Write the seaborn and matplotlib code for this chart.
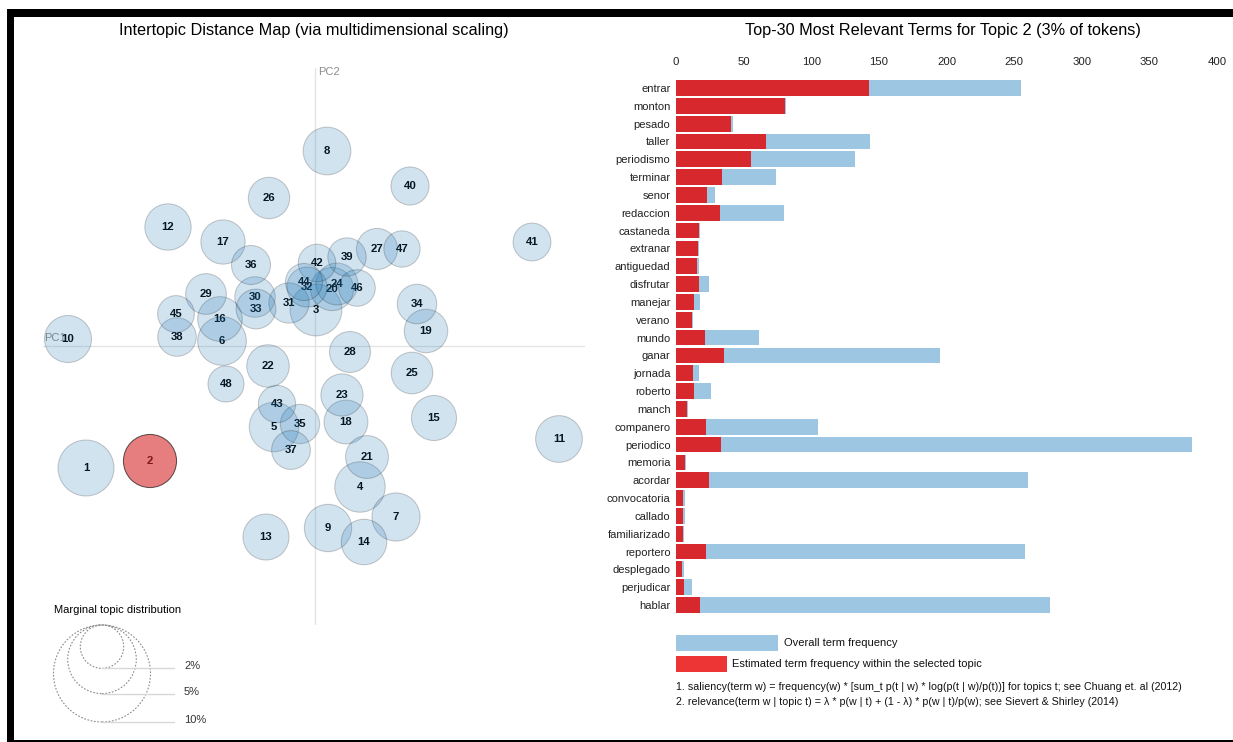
import matplotlib
matplotlib.use("Agg")
import matplotlib.pyplot as plt
from matplotlib.patches import Circle, Rectangle
import numpy as np
import pandas as pd
import seaborn as sns

# ---------------------------------------------------------------- data
# Intertopic distance map: topic centres on the first two principal
# coordinates and each topic's share of all tokens (percent).
topic_ids = list(range(1, 49))
topic_pc1 = [-0.229, -0.165, 0.001, 0.045, -0.041, -0.093, 0.081, 0.012,
             0.013, -0.247, 0.244, -0.147, -0.049, 0.049, 0.119, -0.095,
             -0.092, 0.031, 0.111, 0.017, 0.052, -0.047, 0.027, 0.022,
             0.097, -0.046, 0.062, 0.035, -0.109, -0.060, -0.026, -0.008,
             -0.059, 0.102, -0.015, -0.064, -0.024, -0.138, 0.032, 0.095,
             0.217, 0.002, -0.038, -0.011, -0.139, 0.042, 0.087, -0.089]
topic_pc2 = [-0.122, -0.115, 0.036, -0.141, -0.081, 0.005, -0.171, 0.195,
             -0.182, 0.007, -0.093, 0.119, -0.191, -0.196, -0.072, 0.027,
             0.104, -0.076, 0.015, 0.057, -0.111, -0.020, -0.049, 0.062,
             -0.027, 0.148, 0.097, -0.006, 0.052, 0.049, 0.043, 0.059,
             0.037, 0.042, -0.078, 0.081, -0.104, 0.009, 0.089, 0.160,
             0.104, 0.083, -0.058, 0.064, 0.032, 0.058, 0.097, -0.038]
topic_share = [3.33, 3.00, 2.85, 2.70, 2.60, 2.52, 2.46, 2.42, 2.38, 2.35,
               2.32, 2.28, 2.25, 2.20, 2.16, 2.12, 2.08, 2.04, 2.01, 1.98,
               1.95, 1.92, 1.89, 1.86, 1.84, 1.82, 1.80, 1.78, 1.76, 1.74,
               1.72, 1.70, 1.68, 1.66, 1.64, 1.62, 1.60, 1.58, 1.56, 1.54,
               1.52, 1.50, 1.48, 1.46, 1.44, 1.42, 1.40, 1.38]
selected_topic = 2
legend_shares = [2, 5, 10]

# Top-30 terms for the selected topic
terms = ["entrar", "monton", "pesado", "taller", "periodismo", "terminar",
         "senor", "redaccion", "castaneda", "extranar", "antiguedad",
         "disfrutar", "manejar", "verano", "mundo", "ganar", "jornada",
         "roberto", "manch", "companero", "periodico", "memoria", "acordar",
         "convocatoria", "callado", "familiarizado", "reportero",
         "desplegado", "perjudicar", "hablar"]
overall_freq = [255, 81.5, 41.8, 143.3, 132.5, 73.7, 28.7, 80, 17.9, 17,
                16.7, 24.2, 17.9, 12.2, 61.2, 195.2, 17.3, 26, 8.7, 104.8,
                381.2, 7.2, 260.6, 6.6, 6.6, 5.7, 257.9, 5.7, 11.9, 276.7]
topic_freq = [142.4, 80.3, 40.6, 66.3, 55.2, 33.7, 23, 32.5, 17.3, 16.4,
              15.8, 17, 13.4, 11.6, 21.8, 35.2, 12.2, 13.4, 8.4, 22, 33.1,
              6.9, 24.5, 5.4, 5.4, 5.4, 22.1, 4.5, 6, 17.9]
freq_ticks = [0, 50, 100, 150, 200, 250, 300, 350, 400]

# ---------------------------------------------------------------- style
sns.set_theme(style="white")
plt.rcParams["font.family"] = ["Liberation Sans", "DejaVu Sans"]

W, H, DPI = 1233, 742, 100
BLUE = "#1f77b4"
RED = "#d62728"
BAR_BLUE = "#9dc6e3"
BAR_RED = "#d7282d"
KEY_RED = "#ee3535"


def fig_box(x0, y0, x1, y1):
    """Pixel box (top-left origin) -> figure fraction rectangle."""
    return [x0 / W, 1 - y1 / H, (x1 - x0) / W, (y1 - y0) / H]


def fig_xy(x, y):
    return x / W, 1 - y / H


fig = plt.figure(figsize=(W / DPI, H / DPI), dpi=DPI)
fig.patch.set_facecolor("white")

# ---------------------------------------------------------------- frame
for box in [(7, 9, 14, 742), (7, 9, W, 17), (7, 740, W, 742)]:
    x0, y0, x1, y1 = box
    fig.add_artist(Rectangle(fig_xy(x0, y1), (x1 - x0) / W, (y1 - y0) / H,
                             transform=fig.transFigure, facecolor="black",
                             edgecolor="none", zorder=10))

# ---------------------------------------------------------------- topic map
ax_map = fig.add_axes(fig_box(14, 17, 614, 740))
ax_map.set_xlim(-0.301, 0.299)
ax_map.set_ylim(-0.394, 0.329)
ax_map.set_axis_off()

AXIS_GREY = "#e4e4e4"
ax_map.plot([-0.272, 0.269], [0, 0], color=AXIS_GREY, lw=1, zorder=0)
ax_map.plot([0, 0], [-0.278, 0.278], color=AXIS_GREY, lw=1, zorder=0)
ax_map.text(-0.271, 0.008, "PC1", color="#8c8c8c", fontsize=8,
            ha="left", va="center", zorder=0)
ax_map.text(0.003, 0.274, "PC2", color="#8c8c8c", fontsize=8,
            ha="left", va="center", zorder=0)

R10 = 0.0485  # radius of a topic holding 10% of tokens
for t, x, y, s in zip(topic_ids, topic_pc1, topic_pc2, topic_share):
    r = R10 * np.sqrt(s / 10)
    chosen = t == selected_topic
    ax_map.add_patch(Circle((x, y), r, facecolor=RED if chosen else BLUE,
                            edgecolor="black", lw=0.75,
                            alpha=0.6 if chosen else 0.2, zorder=2))
    ax_map.text(x, y, str(t), fontsize=8.2, fontweight="bold", color="black",
                ha="center", va="center", zorder=1)

# marginal distribution key
key_cx, key_top = -0.213, -0.279
key_line_end, key_label_x = -0.141, -0.131
ax_map.text(-0.261, -0.264, "Marginal topic distribution", fontsize=8,
            color="black", ha="left", va="center")
for s in legend_shares:
    r = R10 * np.sqrt(s / 10)
    ax_map.add_patch(Circle((key_cx, key_top - r), r, fill=False,
                            edgecolor="#8a8a8a", lw=0.8,
                            linestyle=(0, (1.5, 1.5))))
    yb = key_top - 2 * r
    ax_map.plot([key_cx, key_line_end], [yb, yb], color="#d8d8d8", lw=1)
    ax_map.text(key_label_x, yb + 0.002, f"{s}%", fontsize=8, color="#333333",
                ha="left", va="center")

fig.text(*fig_xy(314, 31),
         "Intertopic Distance Map (via multidimensional scaling)",
         fontsize=11.7, ha="center", va="center", color="black")

# ---------------------------------------------------------------- bar chart
df = pd.DataFrame({"term": terms, "overall": overall_freq,
                   "topic": topic_freq})
ax_bar = fig.add_axes(fig_box(676, 79.1, 1217, 613.9))
sns.barplot(data=df, x="overall", y="term", orient="h", color=BAR_BLUE,
            saturation=1, width=0.88, errorbar=None, linewidth=0, ax=ax_bar)
sns.barplot(data=df, x="topic", y="term", orient="h", color=BAR_RED,
            saturation=1, width=0.88, errorbar=None, linewidth=0, ax=ax_bar)
ax_bar.set_xlim(0, 400)
ax_bar.set_ylim(len(terms) - 0.5, -0.5)
ax_bar.set_xticks(freq_ticks)
ax_bar.set_xticklabels([str(v) for v in freq_ticks])
ax_bar.xaxis.tick_top()
ax_bar.set_xlabel("")
ax_bar.set_ylabel("")
ax_bar.grid(False)
for side in ax_bar.spines.values():
    side.set_visible(False)
ax_bar.tick_params(axis="x", length=0, pad=8.5, labelsize=8.2,
                   labelcolor="#222222")
ax_bar.tick_params(axis="y", length=0, pad=4, labelsize=8,
                   labelcolor="#222222")

fig.text(*fig_xy(943, 31),
         "Top-30 Most Relevant Terms for Topic 2 (3% of tokens)",
         fontsize=11.7, ha="center", va="center", color="black")

# bar key
fig.add_artist(Rectangle(fig_xy(676, 650.7), 101.6 / W, 15.7 / H,
                         transform=fig.transFigure, facecolor=BAR_BLUE,
                         edgecolor="none"))
fig.add_artist(Rectangle(fig_xy(676, 671.7), 51 / W, 15.7 / H,
                         transform=fig.transFigure, facecolor=KEY_RED,
                         edgecolor="none"))
fig.text(*fig_xy(783.7, 643), "Overall term frequency", fontsize=8,
         ha="left", va="center", color="#111111")
fig.text(*fig_xy(732, 664), "Estimated term frequency within the selected topic",
         fontsize=8, ha="left", va="center", color="#111111")
fig.text(*fig_xy(676, 687),
         "1. saliency(term w) = frequency(w) * [sum_t p(t | w) * "
         "log(p(t | w)/p(t))] for topics t; see Chuang et. al (2012)",
         fontsize=7.7, ha="left", va="center", color="#111111")
fig.text(*fig_xy(676, 702),
         "2. relevance(term w | topic t) = \u03bb * p(w | t) + (1 - \u03bb) * "
         "p(w | t)/p(w); see Sievert & Shirley (2014)",
         fontsize=7.7, ha="left", va="center", color="#111111")

fig.savefig("out.png", dpi=DPI, facecolor="white")
